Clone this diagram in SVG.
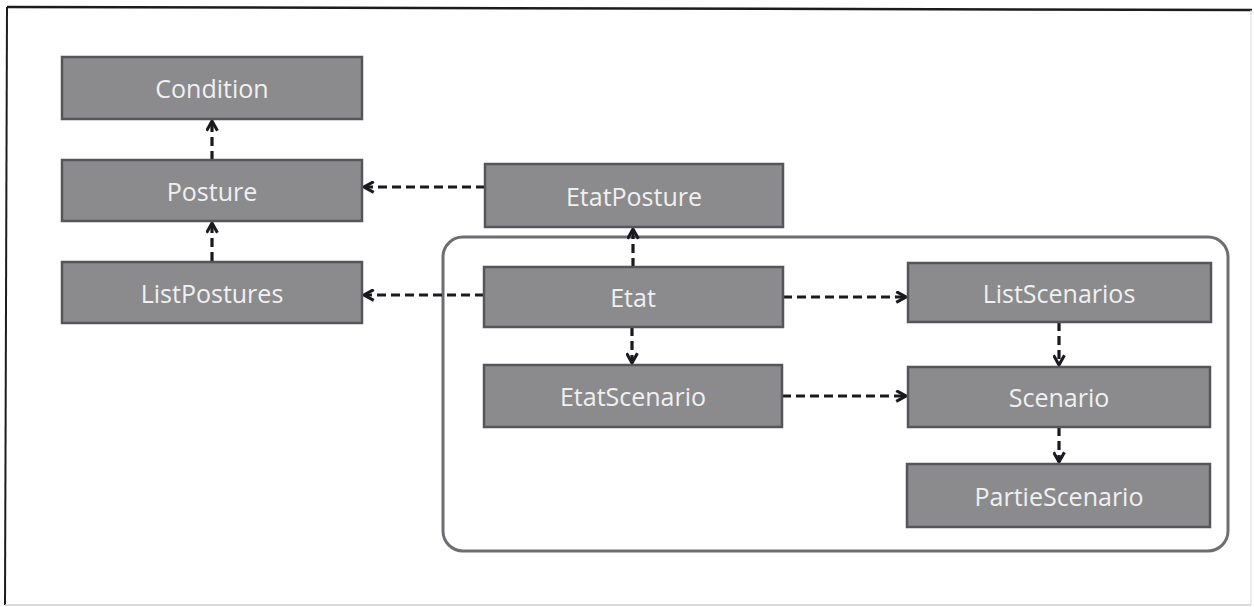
<svg xmlns="http://www.w3.org/2000/svg" width="1254" height="607" viewBox="0 0 1254 607">
  <style>
    .box { fill: #8b8b8e; stroke: #55555a; stroke-width: 2.5; }
    .lbl { font-family: "Open Sans", "DejaVu Sans", sans-serif; font-size: 25px; fill: #f0f0f0; text-anchor: middle; dominant-baseline: central; }
    .dep { fill: none; stroke: #1a1a1e; stroke-width: 3.2; stroke-dasharray: 9 5; }
  </style>
  <defs>
    <marker id="arrow" viewBox="0 0 12 12" refX="11" refY="6" markerWidth="13" markerHeight="13" markerUnits="userSpaceOnUse" orient="auto">
      <path d="M2,1 L11,6 L2,11" fill="none" stroke="#1a1a1e" stroke-width="2.8"/>
    </marker>
  </defs>

  <!-- page background and frame -->
  <rect x="0" y="0" width="1254" height="607" fill="#ffffff"/>
  <line x1="7" y1="7" x2="1252" y2="10" stroke="#1c1c1c" stroke-width="2.5"/>
  <line x1="7" y1="7" x2="5" y2="605" stroke="#1c1c1c" stroke-width="2"/>
  <line x1="1251" y1="10" x2="1251" y2="605" stroke="#d8d8d8" stroke-width="1"/>
  <line x1="5" y1="605" x2="1251" y2="605" stroke="#cfcfcf" stroke-width="1.5"/>

  <!-- package frame around the state classes -->
  <rect id="etat-package" x="443" y="237" width="785" height="314" rx="20" ry="20" fill="none" stroke="#6e6e72" stroke-width="3"/>

  <g id="connectors">
    <line class="dep" x1="212" y1="160" x2="212" y2="121" marker-end="url(#arrow)"/>
    <line class="dep" x1="212" y1="261" x2="212" y2="223" marker-end="url(#arrow)"/>
    <line class="dep" x1="485" y1="187" x2="364" y2="187" marker-end="url(#arrow)"/>
    <line class="dep" x1="484" y1="295" x2="364" y2="295" marker-end="url(#arrow)"/>
    <line class="dep" x1="633" y1="267" x2="633" y2="229" marker-end="url(#arrow)"/>
    <line class="dep" x1="632" y1="327" x2="632" y2="363" marker-end="url(#arrow)"/>
    <line class="dep" x1="783" y1="297" x2="906" y2="297" marker-end="url(#arrow)"/>
    <line class="dep" x1="782" y1="396" x2="906" y2="396" marker-end="url(#arrow)"/>
    <line class="dep" x1="1059" y1="322" x2="1059" y2="365" marker-end="url(#arrow)"/>
    <line class="dep" x1="1059" y1="427" x2="1059" y2="462" marker-end="url(#arrow)"/>
  </g>

  <g id="Condition">
    <rect class="box" x="62" y="57" width="300" height="62"/>
    <text class="lbl" x="212" y="88">Condition</text>
  </g>
  <g id="Posture">
    <rect class="box" x="62" y="160" width="300" height="61"/>
    <text class="lbl" x="212" y="191">Posture</text>
  </g>
  <g id="ListPostures">
    <rect class="box" x="62" y="262" width="300" height="61"/>
    <text class="lbl" x="212" y="293">ListPostures</text>
  </g>
  <g id="EtatPosture">
    <rect class="box" x="485" y="164" width="298" height="63"/>
    <text class="lbl" x="634" y="196">EtatPosture</text>
  </g>
  <g id="Etat">
    <rect class="box" x="484" y="267" width="299" height="60"/>
    <text class="lbl" x="633" y="297">Etat</text>
  </g>
  <g id="EtatScenario">
    <rect class="box" x="484" y="365" width="298" height="62"/>
    <text class="lbl" x="633" y="396">EtatScenario</text>
  </g>
  <g id="ListScenarios">
    <rect class="box" x="908" y="263" width="303" height="59"/>
    <text class="lbl" x="1059" y="293">ListScenarios</text>
  </g>
  <g id="Scenario">
    <rect class="box" x="908" y="367" width="302" height="60"/>
    <text class="lbl" x="1059" y="397">Scenario</text>
  </g>
  <g id="PartieScenario">
    <rect class="box" x="907" y="464" width="303" height="63"/>
    <text class="lbl" x="1059" y="496">PartieScenario</text>
  </g>
</svg>
